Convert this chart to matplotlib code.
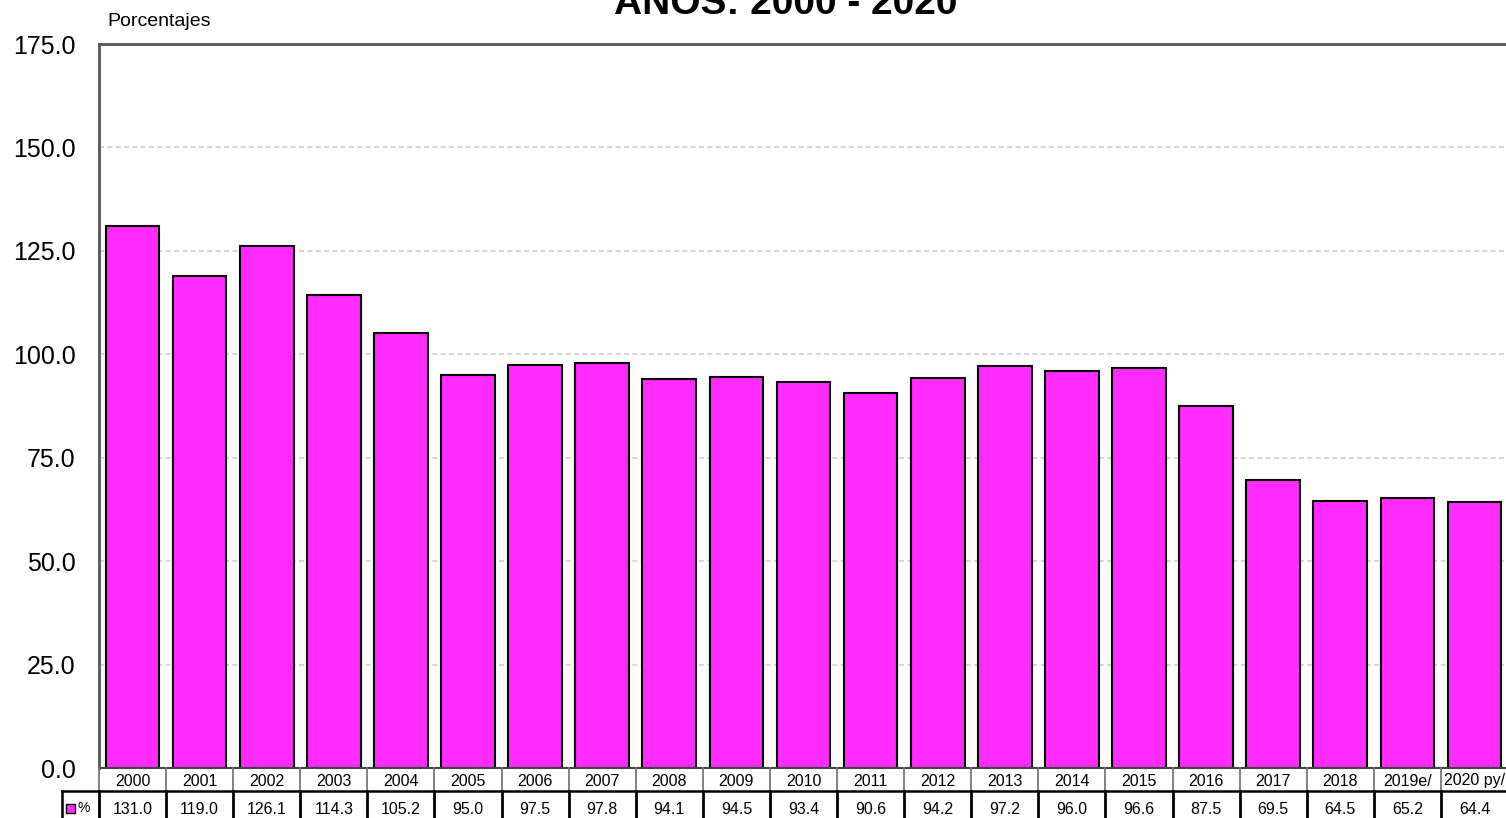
import matplotlib
matplotlib.use("Agg")
import matplotlib.pyplot as plt
from matplotlib.transforms import blended_transform_factory
from matplotlib.patches import Rectangle

plt.rcParams['font.family'] = ['Liberation Sans', 'DejaVu Sans']

# Datos
years = ['2000', '2001', '2002', '2003', '2004', '2005', '2006', '2007', '2008', '2009',
         '2010', '2011', '2012', '2013', '2014', '2015', '2016', '2017', '2018', '2019e/', '2020 py/']
values = [131.0, 119.0, 126.1, 114.3, 105.2, 95.0, 97.5, 97.8, 94.1, 94.5,
          93.4, 90.6, 94.2, 97.2, 96.0, 96.6, 87.5, 69.5, 64.5, 65.2, 64.4]
yticks = [0, 25, 50, 75, 100, 125, 150, 175]

BAR_COLOR = '#ff2bff'
W, H = 1506, 818

fig = plt.figure(figsize=(W / 100, H / 100), dpi=100)
ax = fig.add_axes([99 / W, 1 - 768 / H, 1409 / W, 724 / H])

x = list(range(len(years)))
ax.bar(x, values, width=0.8, color=BAR_COLOR, edgecolor='black', linewidth=1.5, zorder=3)

ax.set_xlim(-0.5, len(years) - 0.5)
ax.set_ylim(0, 175)
ax.set_yticks(yticks)
ax.set_yticklabels([f'{v:.1f}' for v in yticks], fontsize=18)
ax.tick_params(axis='y', length=0, pad=17)
ax.set_xticks([])

# Grid
for v in yticks[1:-1]:
    ax.axhline(v, color='#d0d0d0', linestyle=(0, (3, 2)), linewidth=1.2, zorder=1)

for s in ['left', 'top']:
    ax.spines[s].set_color('#555555')
    ax.spines[s].set_linewidth(2)
ax.spines['right'].set_visible(False)
ax.spines['bottom'].set_visible(False)

# Titulo y etiqueta
fig.text(786 / W, 1 - 14 / H, 'AÑOS: 2000 - 2020', ha='center', va='baseline',
         fontsize=28, fontweight='bold')
fig.text(107 / W, 1 - 22 / H, 'Porcentajes', ha='left', va='center', fontsize=14)

# Tabla de datos
tr = blended_transform_factory(ax.transData, fig.transFigure)
y_top = 1 - 768 / H
y_mid = 1 - 790.5 / H
y_bot = -0.01

ax.plot([-0.5, len(years) - 0.5], [y_top, y_top], transform=tr, color='#444444',
        linewidth=1.5, clip_on=False, zorder=4)
ax.plot([-0.5, len(years) - 0.5], [y_mid, y_mid], transform=tr, color='black',
        linewidth=1.8, clip_on=False, zorder=4)
fig.add_artist(plt.Line2D([62 / W, 99 / W], [y_mid, y_mid], color='black', linewidth=1.8))
fig.add_artist(plt.Line2D([62 / W, 62 / W], [y_mid, y_bot], color='black', linewidth=1.8))

for i in range(len(years) + 1):
    xe = i - 0.5
    ax.plot([xe, xe], [y_top, y_mid], transform=tr, color='#777777',
            linewidth=1.3, clip_on=False, zorder=4)
    ax.plot([xe, xe], [y_mid, y_bot], transform=tr, color='black',
            linewidth=2, clip_on=False, zorder=4)

for i, (yr, v) in enumerate(zip(years, values)):
    ax.text(i, 1 - 781 / H, yr, transform=tr, ha='center', va='center', fontsize=11.5)
    ax.text(i, 1 - 809 / H, f'{v:.1f}', transform=tr, ha='center', va='center', fontsize=11.5)

fig.add_artist(Rectangle((66 / W, 1 - 813 / H), 9 / W, 9 / H, facecolor=BAR_COLOR,
                         edgecolor='black', linewidth=1, transform=fig.transFigure))
fig.text(77 / W, 1 - 808 / H, '%', ha='left', va='center', fontsize=10)

fig.savefig('out.png', dpi=100)
